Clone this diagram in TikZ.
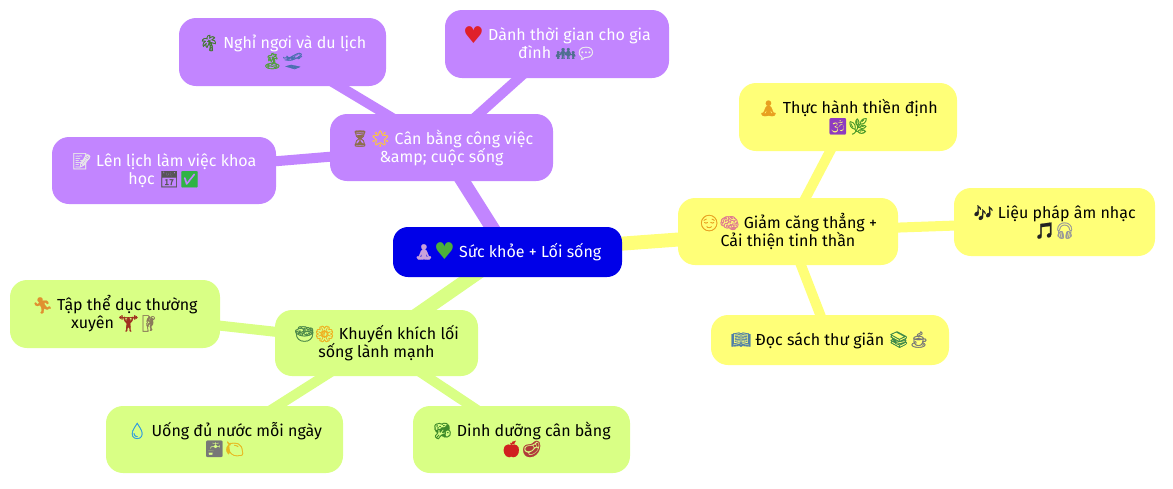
\documentclass[tikz,border=0pt]{standalone}
\usepackage{fontspec}
\usetikzlibrary{backgrounds}
\setmainfont{Fira Sans}
\newfontfamily\emj[RawFeature={embolden=1.0}]{Noto Emoji}
\newfontfamily\djv[Scale=1.45]{DejaVu Sans}
\definecolor{purp}{RGB}{194,133,255}
\definecolor{yel}{RGB}{255,255,120}
\definecolor{grn}{RGB}{217,255,133}
\definecolor{rootblue}{RGB}{0,0,232}
\newcommand{\emo}[2]{{\color[HTML]{#1}\emj #2}}
\newcommand{\hrt}[1]{\raisebox{-2.5pt}[0pt][0pt]{\color[HTML]{#1}\djv ♥}}
\tikzset{
 x=1pt,y=-1pt,
 mm/.style={rounded corners=17pt,inner sep=0pt,align=center,font=\fontsize{16}{18}\selectfont,text=black},
 rootn/.style={mm,fill=rootblue,text=white,rounded corners=15pt},
 pn/.style={mm,fill=purp,text=white},
 yn/.style={mm,fill=yel},
 gn/.style={mm,fill=grn},
 e1/.style={line width=14pt},
 e2/.style={line width=10pt},
}
\begin{document}
\begin{tikzpicture}
\useasboundingbox (0,0) rectangle (1173,488);
\node[rootn,minimum width=229pt,minimum height=50pt] (root) at (507.5,252) {\emo{C9A0DC}{🧘}\hrt{4CAF3A} Sức khỏe + Lối sống};
\node[pn,minimum width=223pt,minimum height=67pt] (bal) at (441.5,147.5) {\emo{8D6E4A}{⏳}\emo{FFC83D}{🌟} Cân bằng công việc\\\&amp; cuộc sống};
\node[pn,minimum width=207pt,minimum height=68pt] (rest) at (282.5,52) {\emo{3F7A2A}{🌴} Nghỉ ngơi và du lịch\\\emo{4FA03A}{🏝}\emo{4A6FB0}{🛫}};
\node[pn,minimum width=224pt,minimum height=68pt] (fam) at (557,44) {\hrt{E0202A} Dành thời gian cho gia\\đình \emo{4F6F8F}{👪}\emo{EEEEEE}{💬}};
\node[pn,minimum width=224pt,minimum height=67pt] (sch) at (164,170.5) {\emo{E8E8E8}{📝} Lên lịch làm việc khoa\\học \emo{555555}{📅}\emo{2FB344}{✅}};
\node[yn,minimum width=220pt,minimum height=67pt] (str) at (788,231.5) {\emo{E8A020}{😌}\emo{E07A90}{🧠} Giảm căng thẳng +\\Cải thiện tinh thần};
\node[yn,minimum width=218pt,minimum height=68pt] (med) at (848,117) {\emo{E8A020}{🧘} Thực hành thiền định\\\emo{8E3BC0}{🕉}\emo{4C9A2A}{🌿}};
\node[yn,minimum width=201pt,minimum height=68pt] (mus) at (1054.5,222) {\emo{222222}{🎶} Liệu pháp âm nhạc\\\emo{222222}{🎵}\emo{999999}{🎧}};
\node[yn,minimum width=238pt,minimum height=50pt] (read) at (830,340) {\emo{4F7FA8}{📖} Đọc sách thư giãn \emo{3F8A4A}{📚}\emo{777777}{☕}};
\node[gn,minimum width=203pt,minimum height=66pt] (life) at (376.5,343) {\emo{4E8A4A}{🥗}\emo{F0B020}{🌼} Khuyến khích lối\\sống lành mạnh};
\node[gn,minimum width=210pt,minimum height=68pt] (ex) at (115,314) {\emo{E09030}{🏃} Tập thể dục thường\\xuyên \emo{A03020}{🏋}\emo{8A7A5A}{🧗}};
\node[gn,minimum width=237pt,minimum height=67pt] (wat) at (224.5,439.5) {\emo{2E9BE0}{💧} Uống đủ nước mỗi ngày\\\emo{777777}{🚰}\emo{E8B820}{🍋}};
\node[gn,minimum width=217pt,minimum height=67pt] (nut) at (521.5,439.5) {\emo{3F8A2A}{🥦} Dinh dưỡng cân bằng\\\emo{D02020}{🍎}\emo{B03A3A}{🥩}};
\begin{scope}[on background layer]
\draw[purp,e1] (root.center) -- (bal.center);
\draw[purp,e2] (bal.center) -- (rest.center);
\draw[purp,e2] (bal.center) -- (fam.center);
\draw[purp,e2] (bal.center) -- (sch.center);
\draw[yel,e1] (root.center) -- (str.center);
\draw[yel,e2] (str.center) -- (med.center);
\draw[yel,e2] (str.center) -- (mus.center);
\draw[yel,e2] (str.center) -- (read.center);
\draw[grn,e1] (root.center) -- (life.center);
\draw[grn,e2] (life.center) -- (ex.center);
\draw[grn,e2] (life.center) -- (wat.center);
\draw[grn,e2] (life.center) -- (nut.center);
\end{scope}
\end{tikzpicture}
\end{document}
